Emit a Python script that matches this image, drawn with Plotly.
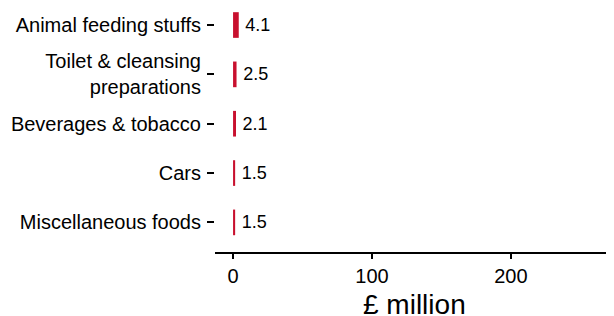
import plotly.graph_objects as go

categories = ["Miscellaneous foods", "Cars", "Beverages & tobacco",
              "Toilet & cleansing<br>preparations", "Animal feeding stuffs"]
values = [1.5, 1.5, 2.1, 2.5, 4.1]
value_labels = ["1.5", "1.5", "2.1", "2.5", "4.1"]
x_ticks = [0, 100, 200]
x_title = "£ million"

fig = go.Figure(go.Bar(
    x=values, y=categories, orientation="h",
    marker=dict(color="#C8102E", line=dict(width=0)),
    width=0.52,
    text=value_labels, texttemplate="\u2009%{text}", textposition="outside",
    textfont=dict(size=18, color="black", family="Liberation Sans"),
    cliponaxis=False,
))

fig.update_layout(
    width=614, height=316,
    margin=dict(l=207, r=0, t=0, b=72),
    plot_bgcolor="white", paper_bgcolor="white",
    font=dict(family="Liberation Sans", size=20, color="black"),
    showlegend=False,
)
fig.add_annotation(
    text=x_title, xref="paper", yref="paper", x=0.49, y=-0.215,
    xanchor="center", yanchor="middle", showarrow=False,
    font=dict(size=28, color="black", family="Liberation Sans"),
)
fig.update_xaxes(
    range=[-13, 280], tickvals=x_ticks, ticks="outside", ticklen=5,
    tickwidth=2, tickcolor="black", showline=True, linecolor="black",
    linewidth=2, showgrid=False, zeroline=False, automargin=False,
    tickfont=dict(size=20, color="black"),
)
fig.update_yaxes(
    range=[-0.6, 4.345], ticks="outside", ticklen=7, tickwidth=2,
    tickcolor="black", showline=False, showgrid=False, zeroline=False,
    automargin=False,
    tickfont=dict(size=20, color="black"), ticklabelstandoff=2,
)

fig.write_html("out.html")
